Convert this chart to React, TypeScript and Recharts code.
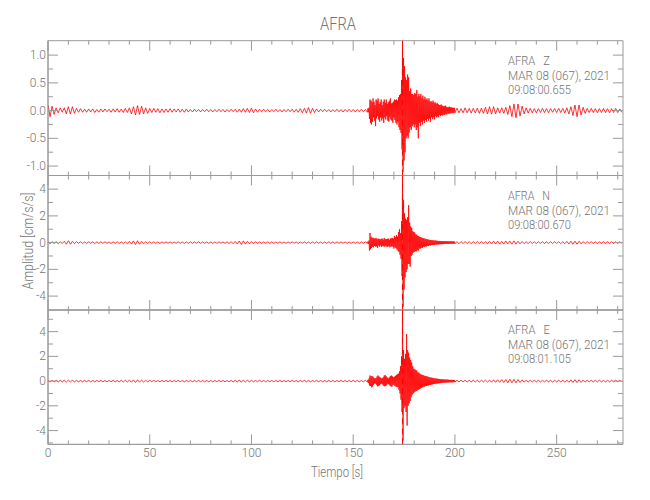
import React from 'react';
import { LineChart, Line, XAxis, YAxis, ReferenceArea, ReferenceLine } from 'recharts';

// ---- time grid segments: [start, end, step] (seconds) ----
const TIME_SEGMENTS: number[][] = [
  [0, 156, 1],
  [157, 199.75, 0.25],
  [200, 282, 1],
];

// ---- Z component (cm/s/s) ----
const Z_PRE = [
  0.1, -0.11, 0.08, -0.07, 0.05, -0.04, 0.05, -0.03, 0.05, -0.06,
  0.07, -0.06, 0.07, -0.05, 0.04, -0.03, 0.035, -0.03, 0.025, -0.03,
  0.03, -0.025, 0.03, -0.035, 0.02, -0.03, 0.03, -0.025, 0.03, -0.02,
  0.025, -0.03, 0.03, -0.025, 0.035, -0.03, 0.03, -0.035, 0.04, -0.035,
  0.05, -0.06, 0.07, -0.08, 0.09, -0.07, 0.08, -0.06, 0.05, -0.05,
  0.04, -0.035, 0.04, -0.03, 0.035, -0.04, 0.03, -0.035, 0.03, -0.03,
  0.035, -0.03, 0.03, -0.025, 0.03, -0.03, 0.025, -0.03, 0.03, -0.025,
  0.02, -0.025, 0.025, -0.02, 0.02, -0.025, 0.02, -0.02, 0.025, -0.02,
  0.02, -0.025, 0.02, -0.02, 0.025, -0.02, 0.02, -0.025, 0.02, -0.02,
  0.025, -0.02, 0.025, -0.03, 0.025, -0.03, 0.035, -0.03, 0.04, -0.035,
  0.045, -0.04, 0.03, -0.03, 0.025, -0.02, 0.025, -0.02, 0.02, -0.025,
  0.02, -0.02, 0.025, -0.02, 0.02, -0.025, 0.02, -0.02, 0.025, -0.02,
  0.025, -0.03, 0.025, -0.03, 0.035, -0.04, 0.04, -0.045, 0.055, -0.05,
  0.04, -0.035, 0.03, -0.025, 0.025, -0.02, 0.025, -0.02, 0.02, -0.025,
  0.02, -0.02, 0.025, -0.02, 0.02, -0.025, 0.02, -0.02, 0.025, -0.02,
  0.02, -0.025, 0.02, -0.02, 0.025, -0.02, 0.02,
];
const Z_EVENT = [
  -0.03, 0.04, -0.03, 0.05, -0.15, 0.2, -0.22, 0.18,
  -0.25, 0.15, -0.2, 0.22, -0.12, 0.16, -0.18, 0.1,
  -0.28, 0.2, -0.14, 0.18, -0.1, 0.22, -0.16, 0.12,
  -0.2, 0.15, -0.12, 0.2, -0.18, 0.1, -0.14, 0.16,
  -0.22, 0.2, -0.12, 0.14, -0.16, 0.2, -0.1, 0.12,
  -0.18, 0.15, -0.2, 0.18, -0.12, 0.22, -0.16, 0.13,
  -0.18, 0.14, -0.22, 0.16, -0.12, 0.2, -0.17, 0.19,
  -0.22, 0.2, -0.25, 0.18, -0.2, 0.24, -0.3, 0.28,
  -0.35, 0.3, -0.4, 0.55, -0.7, 1.2, -1.1, 0.95,
  -0.9, 0.8, -0.75, 0.6, -0.5, 0.55, -0.45, 0.65,
  -0.5, 0.6, -0.4, 0.35, -0.3, 0.4, -0.35, 0.3,
  -0.28, 0.3, -0.25, 0.28, -0.3, 0.32, -0.25, 0.3,
  -0.35, 0.37, -0.3, 0.25, -0.5, 0.3, -0.22, 0.26,
  -0.28, 0.3, -0.2, 0.22, -0.25, 0.27, -0.18, 0.2,
  -0.22, 0.25, -0.17, 0.2, -0.2, 0.22, -0.15, 0.18,
  -0.18, 0.22, -0.14, 0.16, -0.2, 0.17, -0.12, 0.15,
  -0.15, 0.18, -0.12, 0.14, -0.16, 0.15, -0.1, 0.12,
  -0.12, 0.14, -0.1, 0.12, -0.12, 0.1, -0.08, 0.1,
  -0.1, 0.11, -0.08, 0.09, -0.09, 0.08, -0.07, 0.08,
  -0.08, 0.09, -0.06, 0.07, -0.07, 0.06, -0.05, 0.06,
  -0.06, 0.07, -0.05, 0.06, -0.05, 0.06, -0.04, 0.05,
  -0.05, 0.05, -0.04, 0.05,
];
const Z_POST = [
  -0.04, 0.045, -0.04, 0.035, -0.04, 0.05, -0.04, 0.04, -0.045, 0.04,
  -0.04, 0.045, -0.05, 0.045, -0.05, 0.06, -0.06, 0.07, -0.065, 0.07,
  -0.06, 0.05, -0.045, 0.05, -0.05, 0.06, -0.07, 0.09, -0.11, 0.12,
  -0.13, 0.12, -0.1, 0.08, -0.06, 0.05, -0.045, 0.04, -0.04, 0.035,
  -0.04, 0.035, -0.035, 0.04, -0.035, 0.035, -0.04, 0.035, -0.03, 0.035,
  -0.035, 0.04, -0.035, 0.04, -0.045, 0.05, -0.06, 0.07, -0.09, 0.1,
  -0.11, 0.1, -0.08, 0.06, -0.05, 0.04, -0.035, 0.04, -0.035, 0.035,
  -0.04, 0.035, -0.035, 0.04, -0.035, 0.035, -0.04, 0.035, -0.035, 0.04,
  -0.035, 0.03, -0.03,
];

// ---- N component ----
const N_PRE = [
  0.1, -0.09, 0.08, -0.07, 0.07, -0.08, 0.06, -0.07, 0.1, -0.12,
  0.14, -0.12, 0.1, -0.08, 0.07, -0.06, 0.07, -0.06, 0.05, -0.06,
  0.06, -0.05, 0.06, -0.07, 0.05, -0.06, 0.06, -0.05, 0.06, -0.05,
  0.05, -0.06, 0.06, -0.05, 0.06, -0.06, 0.05, -0.07, 0.07, -0.08,
  0.09, -0.11, 0.13, -0.15, 0.14, -0.12, 0.1, -0.08, 0.07, -0.06,
  0.06, -0.05, 0.06, -0.06, 0.05, -0.06, 0.05, -0.05, 0.06, -0.05,
  0.05, -0.06, 0.05, -0.05, 0.06, -0.05, 0.05, -0.06, 0.05, -0.05,
  0.06, -0.05, 0.05, -0.05, 0.06, -0.05, 0.05, -0.06, 0.05, -0.05,
  0.05, -0.06, 0.05, -0.05, 0.06, -0.05, 0.05, -0.06, 0.06, -0.07,
  0.07, -0.08, 0.09, -0.1, 0.12, -0.14, 0.13, -0.11, 0.09, -0.08,
  0.07, -0.06, 0.06, -0.05, 0.05, -0.06, 0.05, -0.05, 0.06, -0.05,
  0.05, -0.06, 0.05, -0.05, 0.06, -0.05, 0.05, -0.06, 0.05, -0.05,
  0.06, -0.05, 0.05, -0.06, 0.05, -0.05, 0.06, -0.05, 0.05, -0.06,
  0.05, -0.05, 0.06, -0.05, 0.05, -0.06, 0.05, -0.05, 0.06, -0.05,
  0.05, -0.06, 0.05, -0.05, 0.06, -0.05, 0.05, -0.06, 0.05, -0.05,
  0.06, -0.05, 0.05, -0.06, 0.05, -0.05, 0.06,
];
const N_EVENT = [
  -0.05, 0.08, -0.1, 0.15, -0.6, 0.72, -0.5, 0.45,
  -0.4, 0.35, -0.3, 0.38, -0.35, 0.3, -0.25, 0.32,
  -0.3, 0.35, -0.28, 0.25, -0.4, 0.3, -0.22, 0.28,
  -0.3, 0.25, -0.2, 0.28, -0.32, 0.3, -0.25, 0.22,
  -0.28, 0.35, -0.3, 0.25, -0.22, 0.27, -0.3, 0.28,
  -0.32, 0.3, -0.25, 0.2, -0.35, 0.3, -0.28, 0.32,
  -0.3, 0.35, -0.28, 0.3, -0.45, 0.5, -0.35, 0.4,
  -0.4, 0.55, -0.5, 0.45, -0.6, 0.8, -0.7, 1.0,
  -0.9, 0.7, -1.2, 1.6, -2.5, 4.7, -4.8, 3.2,
  -3.5, 2.2, -2.6, 1.8, -2.2, 1.7, -2.0, 1.9,
  -1.6, 2.8, -1.6, 1.5, -1.8, 1.2, -1.0, 1.1,
  -0.9, 0.85, -0.75, 0.8, -0.7, 0.75, -0.65, 0.6,
  -0.65, 0.6, -0.55, 0.5, -0.6, 0.5, -0.45, 0.42,
  -0.45, 0.42, -0.38, 0.35, -0.4, 0.35, -0.3, 0.32,
  -0.32, 0.3, -0.28, 0.25, -0.28, 0.27, -0.24, 0.22,
  -0.25, 0.22, -0.2, 0.2, -0.22, 0.2, -0.18, 0.17,
  -0.18, 0.18, -0.16, 0.15, -0.17, 0.16, -0.14, 0.15,
  -0.15, 0.14, -0.13, 0.12, -0.14, 0.13, -0.12, 0.11,
  -0.12, 0.12, -0.11, 0.1, -0.12, 0.11, -0.1, 0.1,
  -0.1, 0.11, -0.09, 0.1, -0.1, 0.1, -0.09, 0.09,
  -0.1, 0.09, -0.08, 0.09, -0.09, 0.1, -0.08, 0.09,
  -0.09, 0.09, -0.08, 0.08,
];
const N_POST = [
  -0.08, 0.07, -0.08, 0.08, -0.07, 0.08, -0.07, 0.07, -0.08, 0.07,
  -0.07, 0.08, -0.07, 0.08, -0.08, 0.07, -0.08, 0.09, -0.1, 0.11,
  -0.1, 0.11, -0.12, 0.1, -0.11, 0.12, -0.1, 0.11, -0.12, 0.13,
  -0.12, 0.1, -0.09, 0.08, -0.08, 0.07, -0.07, 0.08, -0.07, 0.07,
  -0.07, 0.07, -0.06, 0.07, -0.07, 0.06, -0.07, 0.07, -0.06, 0.07,
  -0.07, 0.07, -0.08, 0.07, -0.08, 0.09, -0.1, 0.11, -0.12, 0.11,
  -0.12, 0.1, -0.09, 0.08, -0.07, 0.07, -0.06, 0.07, -0.06, 0.06,
  -0.07, 0.06, -0.06, 0.07, -0.06, 0.06, -0.07, 0.06, -0.06, 0.06,
  -0.06, 0.06, -0.05,
];

// ---- E component ----
const E_PRE = [
  0.1, -0.09, 0.08, -0.08, 0.07, -0.07, 0.06, -0.07, 0.07, -0.08,
  0.08, -0.07, 0.07, -0.06, 0.06, -0.06, 0.05, -0.06, 0.06, -0.05,
  0.06, -0.06, 0.05, -0.06, 0.06, -0.05, 0.06, -0.06, 0.05, -0.06,
  0.06, -0.05, 0.06, -0.06, 0.05, -0.06, 0.06, -0.07, 0.07, -0.08,
  0.08, -0.09, 0.1, -0.11, 0.1, -0.09, 0.08, -0.08, 0.07, -0.06,
  0.06, -0.05, 0.06, -0.06, 0.05, -0.06, 0.05, -0.05, 0.06, -0.05,
  0.05, -0.06, 0.05, -0.05, 0.06, -0.05, 0.05, -0.06, 0.05, -0.05,
  0.06, -0.05, 0.05, -0.05, 0.06, -0.05, 0.05, -0.06, 0.05, -0.05,
  0.05, -0.06, 0.05, -0.05, 0.06, -0.05, 0.05, -0.06, 0.05, -0.06,
  0.06, -0.07, 0.08, -0.09, 0.1, -0.09, 0.08, -0.07, 0.07, -0.06,
  0.06, -0.06, 0.05, -0.05, 0.06, -0.05, 0.05, -0.06, 0.05, -0.05,
  0.05, -0.06, 0.05, -0.05, 0.06, -0.05, 0.05, -0.06, 0.05, -0.05,
  0.06, -0.05, 0.05, -0.06, 0.05, -0.05, 0.06, -0.05, 0.05, -0.06,
  0.05, -0.05, 0.06, -0.05, 0.05, -0.06, 0.05, -0.05, 0.06, -0.05,
  0.05, -0.06, 0.05, -0.05, 0.06, -0.05, 0.05, -0.06, 0.05, -0.05,
  0.06, -0.05, 0.05, -0.06, 0.05, -0.05, 0.06,
];
const E_EVENT = [
  -0.08, 0.1, -0.15, 0.2, -0.35, 0.45, -0.4, 0.38,
  -0.5, 0.42, -0.45, 0.35, -0.3, 0.25, -0.2, 0.22,
  -0.2, 0.25, -0.3, 0.38, -0.42, 0.45, -0.4, 0.36,
  -0.35, 0.3, -0.25, 0.22, -0.2, 0.25, -0.28, 0.3,
  -0.38, 0.45, -0.42, 0.48, -0.4, 0.38, -0.3, 0.28,
  -0.25, 0.22, -0.25, 0.3, -0.35, 0.4, -0.42, 0.45,
  -0.45, 0.38, -0.32, 0.3, -0.28, 0.35, -0.4, 0.42,
  -0.45, 0.5, -0.48, 0.55, -0.5, 0.6, -0.7, 0.8,
  -1.0, 1.2, -1.5, 2.0, -2.5, 5.6, -4.8, 2.5,
  -2.2, 1.8, -2.0, 2.2, -2.5, 3.8, -3.6, 2.5,
  -2.0, 2.3, -1.8, 1.9, -1.6, 1.7, -1.3, 1.5,
  -1.1, 1.2, -1.0, 1.0, -0.9, 0.95, -0.85, 0.9,
  -0.8, 0.85, -0.75, 0.7, -0.7, 0.7, -0.65, 0.6,
  -0.6, 0.55, -0.55, 0.5, -0.5, 0.5, -0.45, 0.45,
  -0.45, 0.42, -0.4, 0.4, -0.4, 0.38, -0.36, 0.35,
  -0.35, 0.32, -0.32, 0.3, -0.3, 0.28, -0.28, 0.27,
  -0.27, 0.25, -0.24, 0.23, -0.22, 0.22, -0.21, 0.2,
  -0.2, 0.2, -0.19, 0.18, -0.18, 0.17, -0.17, 0.16,
  -0.16, 0.15, -0.15, 0.14, -0.14, 0.14, -0.13, 0.13,
  -0.13, 0.12, -0.12, 0.12, -0.12, 0.12, -0.11, 0.11,
  -0.11, 0.1, -0.1, 0.1, -0.1, 0.1, -0.1, 0.09,
  -0.1, 0.09, -0.09, 0.09,
];
const E_POST = [
  -0.08, 0.08, -0.07, 0.08, -0.07, 0.07, -0.08, 0.07, -0.07, 0.08,
  -0.07, 0.07, -0.08, 0.07, -0.07, 0.08, -0.08, 0.08, -0.09, 0.1,
  -0.1, 0.11, -0.1, 0.12, -0.12, 0.13, -0.14, 0.15, -0.14, 0.15,
  -0.14, 0.12, -0.11, 0.1, -0.09, 0.08, -0.08, 0.07, -0.07, 0.07,
  -0.06, 0.07, -0.07, 0.06, -0.06, 0.07, -0.06, 0.06, -0.07, 0.06,
  -0.06, 0.07, -0.07, 0.07, -0.08, 0.08, -0.09, 0.1, -0.11, 0.12,
  -0.12, 0.11, -0.1, 0.08, -0.07, 0.07, -0.06, 0.07, -0.06, 0.06,
  -0.06, 0.07, -0.06, 0.06, -0.07, 0.06, -0.06, 0.06, -0.06, 0.07,
  -0.06, 0.06, -0.05,
];

// ---- axes / labels ----
const X_TICKS = [0, 10, 20, 30, 40, 50, 60, 70, 80, 90, 100, 110, 120, 130, 140, 150, 160, 170, 180, 190, 200, 210, 220, 230, 240, 250, 260, 270, 280];
const X_LABELS: Record<string, string> = { '0': '0', '50': '50', '100': '100', '150': '150', '200': '200', '250': '250' };
const Z_TICKS = [-1.0, -0.75, -0.5, -0.25, 0, 0.25, 0.5, 0.75, 1.0];
const Z_LABELS: Record<string, string> = { '-1': '-1.0', '-0.5': '-0.5', '0': '0.0', '0.5': '0.5', '1': '1.0' };
const N_TICKS = [-4, -3, -2, -1, 0, 1, 2, 3, 4];
const E_TICKS = [-5, -4, -3, -2, -1, 0, 1, 2, 3, 4, 5];
const NE_LABELS: Record<string, string> = { '-4': '-4', '-2': '-2', '0': '0', '2': '2', '4': '4' };
const STATION = 'AFRA';
const DATE_LINE = 'MAR 08 (067), 2021';
const CHANNELS = ['Z', 'N', 'E'];
const START_TIMES = ['09:08:00.655', '09:08:00.670', '09:08:01.105'];
const PICK_TIME = 174.25;

const XMAX = 282.6;
const W = 650;
const H = 500;
const PLOT_LEFT = 48;
const PLOT_RIGHT = 623;
const YW = 40;
const XH = 1;
const AXIS = '#9a9a9a';
const TXT = '#747474';
const FONT = "Roboto, 'Liberation Sans', sans-serif";

function buildSeries(segs: number[][]) {
  const out: { t: number; v: number }[] = [];
  TIME_SEGMENTS.forEach(([a, b, step], k) => {
    const vals = segs[k];
    const n = Math.round((b - a) / step) + 1;
    for (let i = 0; i < Math.min(n, vals.length); i++) out.push({ t: a + i * step, v: vals[i] });
  });
  return out;
}

const PANELS = [
  { top: 40.7, bottom: 175.5, domain: [-1.17, 1.26], ticks: Z_TICKS, labels: Z_LABELS, data: buildSeries([Z_PRE, Z_EVENT, Z_POST]) },
  { top: 175.5, bottom: 310, domain: [-5.04, 5.02], ticks: N_TICKS, labels: NE_LABELS, data: buildSeries([N_PRE, N_EVENT, N_POST]) },
  { top: 310, bottom: 444.4, domain: [-5.12, 5.75], ticks: E_TICKS, labels: NE_LABELS, data: buildSeries([E_PRE, E_EVENT, E_POST]) },
];

const keyOf = (v: any) => String(Math.round(Number(v) * 1000) / 1000);

function makeXTick(plotH: number, showLabel: boolean) {
  return (props: any) => {
    const { x, y, payload } = props;
    const lab = X_LABELS[keyOf(payload && payload.value)];
    const len = lab !== undefined ? 10 : 4;
    return (
      <g>
        <line x1={x} x2={x} y1={y} y2={y - len} stroke={AXIS} strokeWidth={1} />
        <line x1={x} x2={x} y1={y - plotH} y2={y - plotH + len} stroke={AXIS} strokeWidth={1} />
        {showLabel && lab !== undefined ? (
          <text x={x} y={y + 13} textAnchor="middle" fontSize={12} fill={TXT} fontFamily={FONT} fontWeight={300}>
            {lab}
          </text>
        ) : null}
      </g>
    );
  };
}

function makeYTick(labels: Record<string, string>) {
  const plotW = PLOT_RIGHT - PLOT_LEFT;
  return (props: any) => {
    const { x, y, payload } = props;
    const lab = labels[keyOf(payload && payload.value)];
    const len = lab !== undefined ? 10 : 5;
    return (
      <g>
        <line x1={x} x2={x + len} y1={y} y2={y} stroke={AXIS} strokeWidth={1} />
        <line x1={x + plotW} x2={x + plotW - len} y1={y} y2={y} stroke={AXIS} strokeWidth={1} />
        {lab !== undefined ? (
          <text x={x - 2} y={y + 4} textAnchor="end" fontSize={12} fill={TXT} fontFamily={FONT} fontWeight={300}>
            {lab}
          </text>
        ) : null}
      </g>
    );
  };
}

function Panel({ idx }: { idx: number }) {
  const p = PANELS[idx];
  const plotH = p.bottom - p.top;
  return (
    <div style={{ position: 'absolute', left: 0, top: 0 }}>
      <LineChart
        width={W}
        height={H}
        data={p.data}
        margin={{ top: p.top, bottom: H - p.bottom - XH, left: PLOT_LEFT - YW, right: W - PLOT_RIGHT }}
      >
        <XAxis
          dataKey="t"
          type="number"
          domain={[0, XMAX]}
          allowDataOverflow
          ticks={X_TICKS}
          interval={0}
          height={XH}
          tickSize={0}
          tickMargin={0}
          tickLine={false}
          axisLine={{ stroke: AXIS }}
          tick={makeXTick(plotH, idx === 2)}
        />
        <YAxis
          type="number"
          domain={p.domain}
          allowDataOverflow
          ticks={p.ticks}
          interval={0}
          width={YW}
          tickSize={0}
          tickMargin={0}
          tickLine={false}
          axisLine={{ stroke: AXIS }}
          tick={makeYTick(p.labels)}
        />
        <ReferenceArea x1={0} x2={XMAX} y1={p.domain[0]} y2={p.domain[1]} fill="none" stroke={AXIS} strokeWidth={1} />
        <ReferenceLine x={PICK_TIME} stroke="#ff0000" strokeWidth={1} strokeDasharray="6 4" />
        <Line
          type="linear"
          dataKey="v"
          stroke="#ff0000"
          strokeWidth={0.8}
          dot={false}
          isAnimationActive={false}
        />
      </LineChart>
    </div>
  );
}

export default function App() {
  return (
    <div style={{ position: 'fixed', left: 0, top: 0, width: W, height: H, background: '#fff' }}>
      <Panel idx={0} />
      <Panel idx={1} />
      <Panel idx={2} />
      <svg width={W} height={H} style={{ position: 'absolute', left: 0, top: 0, pointerEvents: 'none' }}>
        <text x={338} y={30} textAnchor="middle" fontSize={18} fill={TXT} fontFamily={FONT} fontWeight={300} textLength={36} lengthAdjust="spacingAndGlyphs">
          {STATION}
        </text>
        {PANELS.map((p, i) => (
          <g key={i} fontSize={12} fill={TXT} fontFamily={FONT} fontWeight={300}>
            <text x={508} y={p.top + 24} style={{ whiteSpace: 'pre' }} textLength={42} lengthAdjust="spacingAndGlyphs">{`${STATION}   ${CHANNELS[i]}`}</text>
            <text x={508} y={p.top + 39} style={{ whiteSpace: 'pre' }} textLength={102} lengthAdjust="spacingAndGlyphs">{DATE_LINE}</text>
            <text x={508} y={p.top + 53} textLength={63} lengthAdjust="spacingAndGlyphs">{START_TIMES[i]}</text>
          </g>
        ))}
        <text x={337} y={477} textAnchor="middle" fontSize={14} fill={TXT} fontFamily={FONT} fontWeight={300} style={{ whiteSpace: 'pre' }} textLength={52} lengthAdjust="spacingAndGlyphs">
          Tiempo [s]
        </text>
        <text
          x={0}
          y={0}
          transform="translate(33,241) rotate(-90)"
          textAnchor="middle"
          fontSize={14}
          fill={TXT}
          fontFamily={FONT}
          fontWeight={300}
          style={{ whiteSpace: 'pre' }}
          textLength={97}
          lengthAdjust="spacingAndGlyphs"
        >
          Amplitud [cm/s/s]
        </text>
      </svg>
    </div>
  );
}
